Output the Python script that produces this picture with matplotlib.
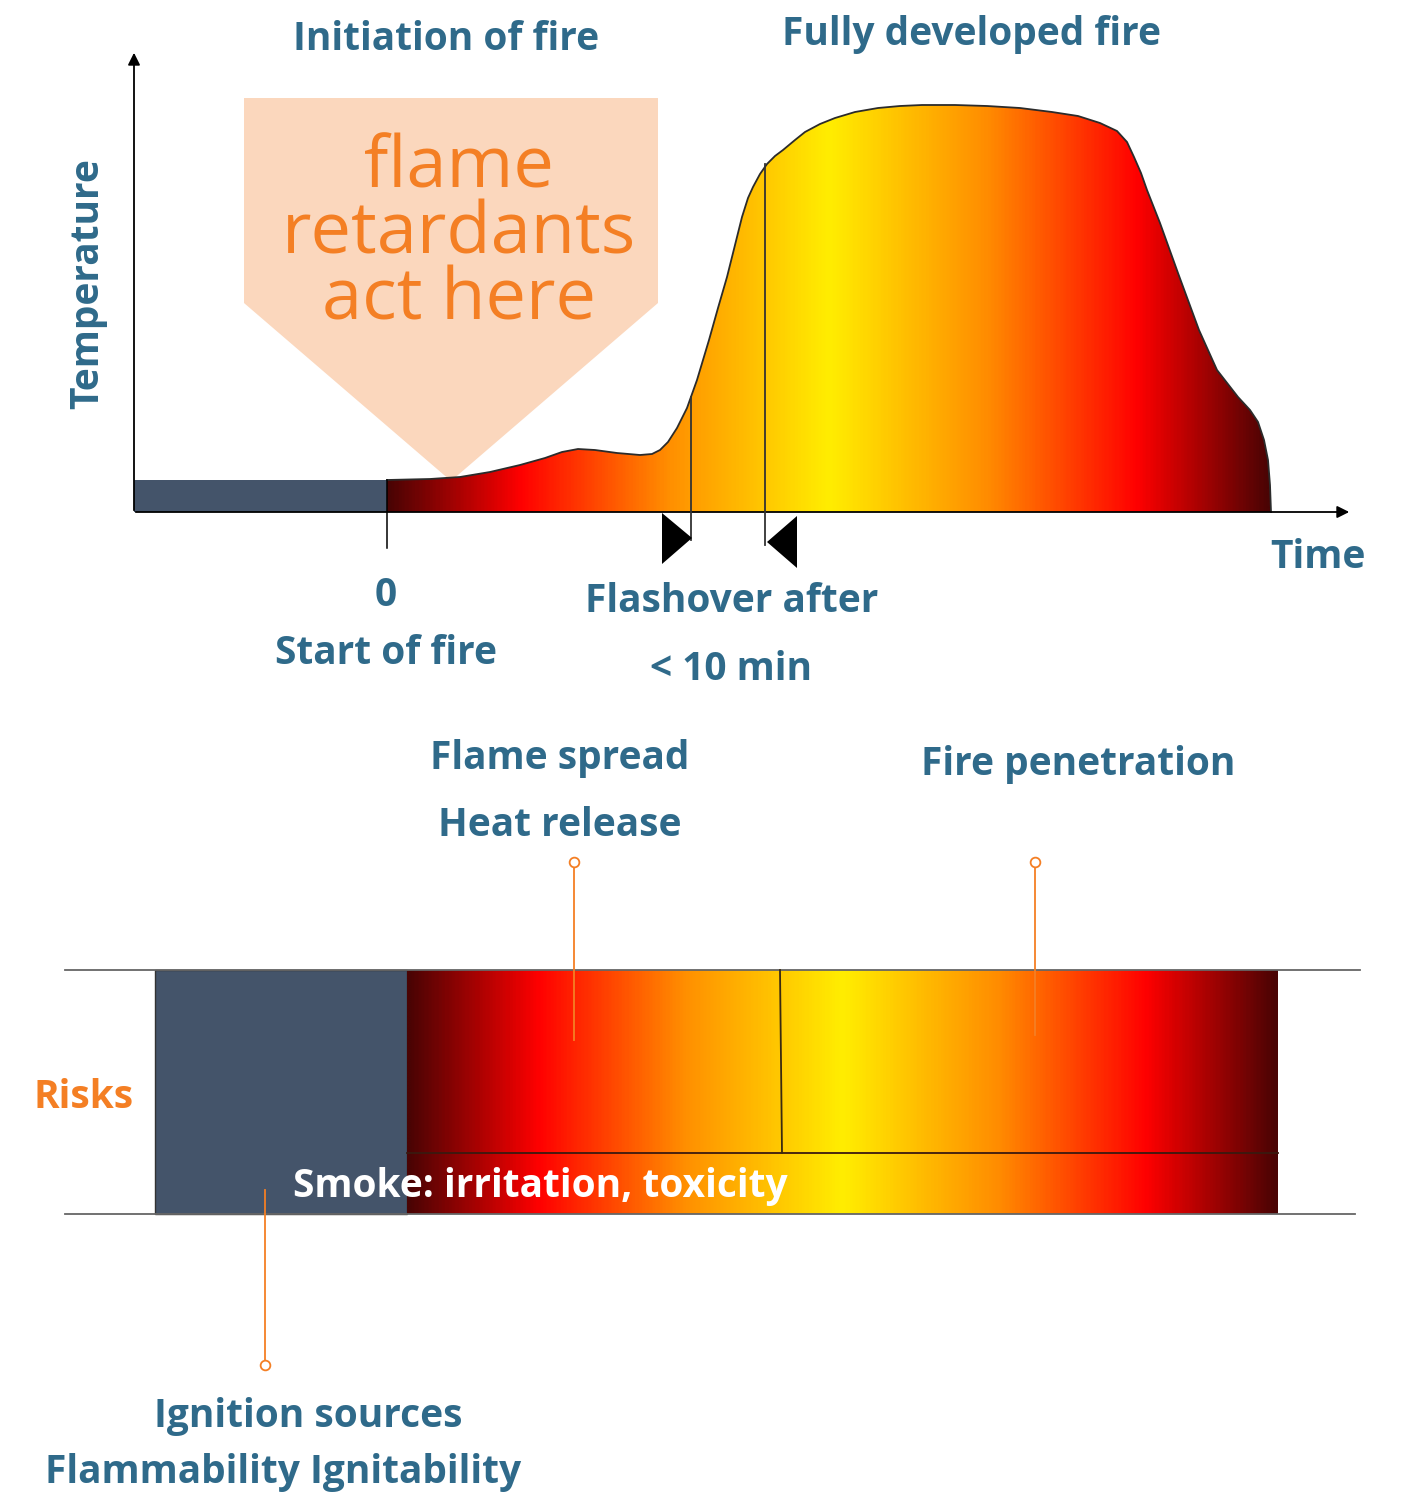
import numpy as np
import matplotlib.pyplot as plt
from matplotlib.colors import LinearSegmentedColormap
from matplotlib.patches import Polygon, Rectangle

# temperature curve of the fire (diagram units, y grows downwards)
curve_time = [387, 430, 460, 490, 520, 545, 562, 578, 595, 617, 640, 652, 660,
              668, 677, 687, 697, 709, 718, 727, 735, 742, 748, 753, 760, 767,
              775, 783, 795, 805, 820, 835, 855, 878, 900, 922, 955, 987, 1020,
              1052, 1078, 1100, 1117, 1127, 1134, 1141, 1147, 1160, 1178, 1199,
              1217, 1238, 1250, 1258, 1264, 1268, 1270, 1271]
curve_temp = [480, 479, 477, 472, 465, 458, 452, 449, 450, 453, 455, 454, 450,
              442, 428, 408, 380, 340, 308, 277, 245, 217, 198, 187, 174, 164,
              156, 150, 140, 132, 124, 118, 112, 108, 106, 105, 105, 106, 108,
              112, 116, 123, 131, 142, 157, 173, 190, 223, 273, 330, 370, 397,
              410, 422, 440, 460, 485, 512]

# fire gradient stops
grad_pos = [0.0, 0.15, 0.32, 0.5, 0.68, 0.85, 1.0]
grad_col = ["#4a0404", "#ff0000", "#ff9000", "#ffee00", "#ff8c00", "#ff0000", "#4a0404"]

TEXT = "#2f6a8a"
ORANGE = "#f47f24"
PEACH = "#fbd7bd"
SLATE = "#44546a"
FONT = "Open Sans"
FS = 28

fire = LinearSegmentedColormap.from_list("fire", list(zip(grad_pos, grad_col)))

fig = plt.figure(figsize=(14.11, 14.93), dpi=100)
ax = fig.add_axes([0, 0, 1, 1])
ax.set_xlim(0, 1411)
ax.set_ylim(1493, 0)
ax.axis("off")


def gradient(x0, x1, y_top, y_bot, clip=None, z=2):
    im = ax.imshow(np.linspace(0, 1, 600).reshape(1, -1), cmap=fire,
                   extent=(x0, x1, y_bot, y_top), aspect="auto",
                   interpolation="bilinear", zorder=z)
    if clip is not None:
        im.set_clip_path(clip)
    return im


# ---- top: temperature curve ----
ax.add_patch(Polygon([(244, 98), (658, 98), (658, 303), (451, 481), (244, 303)],
                     closed=True, fc=PEACH, ec="none", zorder=1))
for txt, yb in [("flame", 187), ("retardants", 253), ("act here", 319)]:
    ax.text(459, yb, txt, color=ORANGE, fontsize=52, family=FONT,
            ha="center", va="baseline", zorder=3)

ax.add_patch(Rectangle((134, 480), 253, 32, fc=SLATE, ec="none", zorder=2))
poly = list(zip(curve_time, curve_temp)) + [(curve_time[0], 512)]
shape = Polygon(poly, closed=True, fc="none", ec="none")
ax.add_patch(shape)
gradient(curve_time[0], curve_time[-1], 100, 512, clip=shape)
ax.plot(curve_time, curve_temp, color="#2b2b2b", lw=1.3, zorder=4,
        solid_joinstyle="round")

# axes arrows
ax.annotate("", xy=(134, 50), xytext=(134, 513),
            arrowprops=dict(arrowstyle="-|>", color="black", lw=1.3,
                            mutation_scale=18), zorder=5)
ax.annotate("", xy=(1352, 512), xytext=(133, 512),
            arrowprops=dict(arrowstyle="-|>", color="black", lw=1.3,
                            mutation_scale=18), zorder=5)

# start tick and flashover markers
ax.plot([387, 387], [480, 548], color="black", lw=1.1, zorder=5)
ax.plot([691, 691], [397, 540], color="#333333", lw=1.3, zorder=5)
ax.plot([765, 765], [164, 545], color="#333333", lw=1.3, zorder=5)
ax.add_patch(Polygon([(662, 513), (662, 564), (692, 538)], fc="black", zorder=5))
ax.add_patch(Polygon([(797, 516), (797, 568), (767, 542)], fc="black", zorder=5))

lab = dict(color=TEXT, family=FONT, fontweight="bold", ha="center", va="center")
ax.text(446, 40, "Initiation of fire", fontsize=FS, **lab)
ax.text(971, 34, "Fully developed fire", fontsize=FS, **lab)
ax.text(88, 284, "Temperature", fontsize=FS, rotation=90, **lab)
ax.text(1318, 557, "Time", fontsize=FS, **lab)
ax.text(386, 596, "0", fontsize=FS, **lab)
ax.text(386, 654, "Start of fire", fontsize=FS, **lab)
ax.text(732, 602, "Flashover after", fontsize=FS, **lab)
ax.text(731, 669, "< 10 min", fontsize=FS, **lab)

# ---- bottom: risks bar ----
ax.text(560, 758, "Flame spread", fontsize=FS, **lab)
ax.text(560, 825, "Heat release", fontsize=FS, **lab)
ax.text(1078, 765, "Fire penetration", fontsize=FS, **lab)
ax.text(308, 1416, "Ignition sources", fontsize=FS, **lab)
ax.text(283, 1473, "Flammability Ignitability", fontsize=FS, **lab)
ax.text(84, 1098, "Risks", fontsize=FS, color=ORANGE, family=FONT,
        fontweight="bold", ha="center", va="center")

ax.plot([65, 1360], [970, 970], color="#666666", lw=1.3, zorder=3)
ax.plot([65, 1355], [1214, 1214], color="#666666", lw=1.3, zorder=3)
ax.add_patch(Rectangle((155, 970), 252, 244, fc=SLATE, ec="#333333", lw=1,
                       zorder=2))
gradient(407, 1278, 970, 1214)
ax.plot([407, 1278], [1153, 1153], color="#3a1a10", lw=1.3, zorder=4)
ax.plot([780, 782], [970, 1153], color="#3a2a10", lw=1.3, zorder=4)
ax.text(540, 1186, "Smoke: irritation, toxicity", fontsize=FS, color="white",
        family=FONT, fontweight="bold", ha="center", va="center", zorder=6)

# orange callout lines
for xs, ys, mark in [(574, (862, 1040), 862), (1035, (862, 1035), 862),
                     (265, (1190, 1365), 1365)]:
    ax.plot([xs, xs], ys, color=ORANGE, lw=1.3, zorder=5)
    ax.plot([xs], [mark], marker="o", ms=7, mfc="white", mec=ORANGE, mew=1.3,
            zorder=6)

fig.savefig("out.png", dpi=100)
